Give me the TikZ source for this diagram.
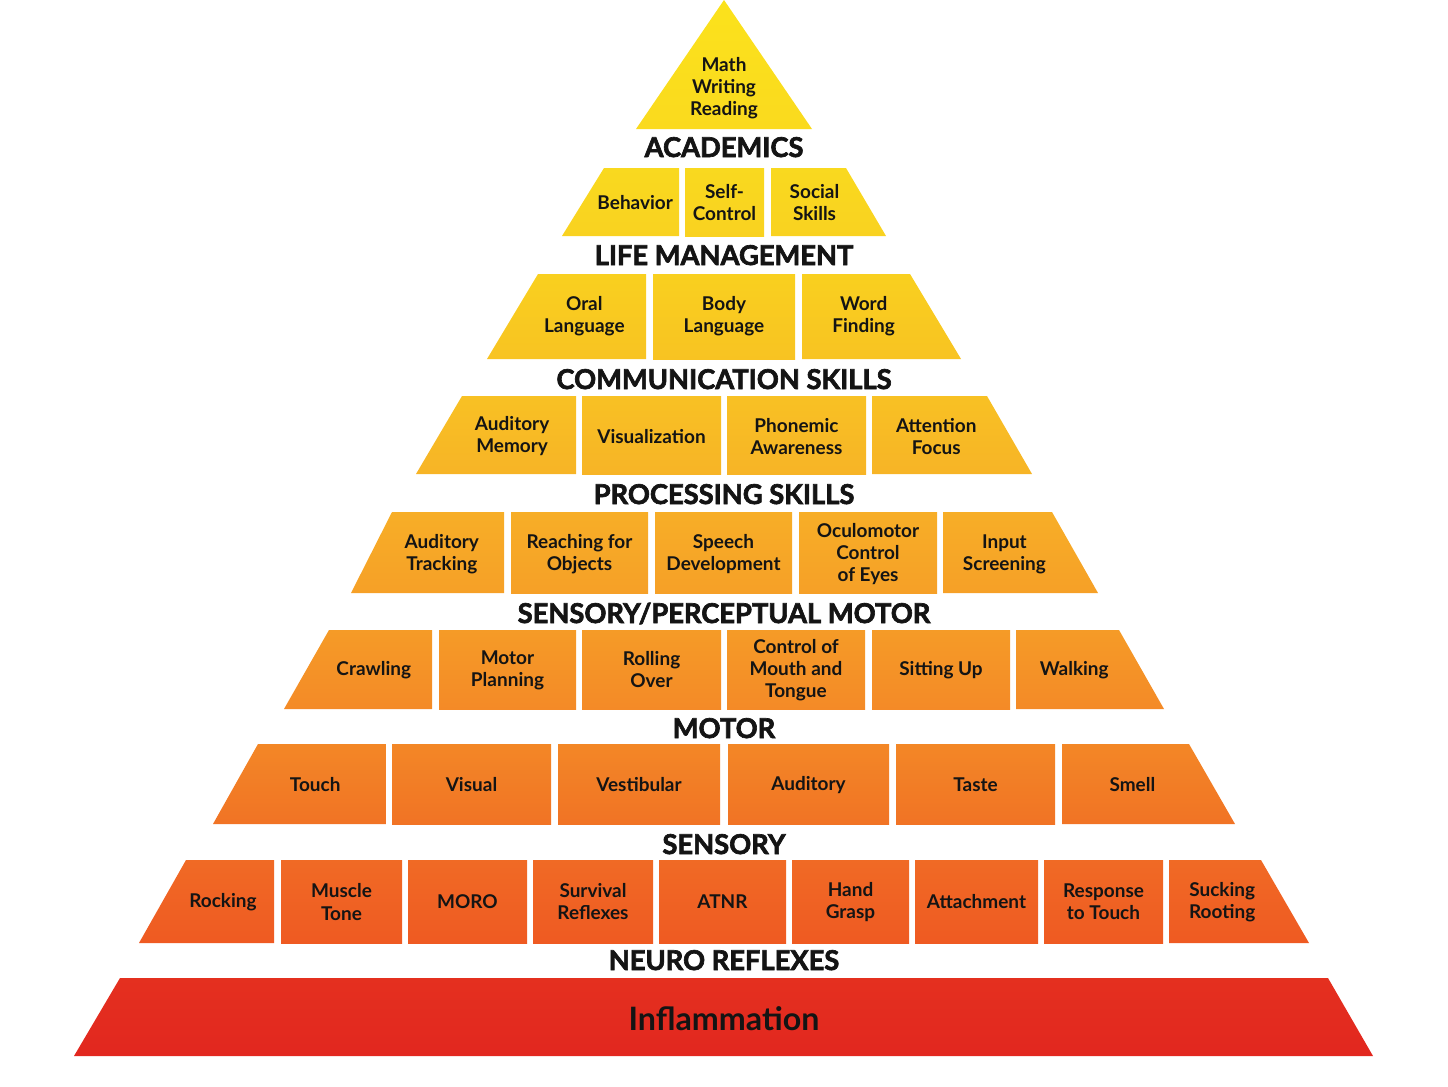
\documentclass[tikz,border=0pt]{standalone}
\usepackage{fontspec}
\setmainfont{Lato}
\newfontfamily\headfont{Lato}[BoldFeatures={FakeBold=2.4}]

\definecolor{inktext}{HTML}{141414}
\tikzset{
  txt/.style={text=inktext, align=center, inner sep=0pt,
    font=\fontsize{16.2}{18.8}\selectfont\bfseries},
  head/.style={anchor=base, text=inktext, inner sep=0pt,
    font=\fontsize{23.3}{27}\selectfont\headfont\bfseries},
  infl/.style={text=inktext, inner sep=0pt,
    font=\fontsize{27.5}{30}\selectfont\bfseries},
}

\begin{document}
\begin{tikzpicture}[x=0.3mm,y=-0.3mm]
\useasboundingbox (0,0) rectangle (1448,1086);

% top of the pyramid
\shade[top color={rgb,255:red,251;green,226;blue,28}, bottom color={rgb,255:red,250;green,218;blue,30}]
  (724,0) -- (812,129) -- (636,129) -- cycle;
\node[txt] (acad) at (724,88) {Math\\Writing\\Reading};
\node[head] (academics) at (724,157) {ACADEMICS};

% life management
\foreach \a/\b/\c/\d/\n/\t in {604/562/679/679/behav/Behavior,
    685/685/764/764/selfc/{Self-\\Control},
    771/771/846/886/social/{Social\\Skills}}{
  \shade[top color={rgb,255:red,249;green,217;blue,31}, bottom color={rgb,255:red,249;green,210;blue,32}]
    (\a,168) -- (\c,168) -- (\d,236) -- (\b,236) -- cycle;
  \node[txt] (\n) at ({(0.7*\a+0.3*\b+0.7*\c+0.3*\d)/2},203) {\t};
}
\node[head] (lifemgmt) at (724,265) {LIFE MANAGEMENT};

% communication
\foreach \a/\b/\c/\d/\n/\t in {538/487/646/646/oral/{Oral\\Language},
    653/653/795/795/body/{Body\\Language},
    802/802/910/961/word/{Word\\Finding}}{
  \shade[top color={rgb,255:red,249;green,208;blue,31}, bottom color={rgb,255:red,248;green,195;blue,34}]
    (\a,274) -- (\c,274) -- (\d,359) -- (\b,359) -- cycle;
  \node[txt] (\n) at ({(0.7*\a+0.3*\b+0.7*\c+0.3*\d)/2},316.5) {\t};
}
\node[head] (comm) at (724,389) {COMMUNICATION SKILLS};

% processing
\foreach \a/\b/\c/\d/\n/\t in {462/416/576/576/audmem/{Auditory\\Memory},
    582/582/721/721/visual/Visualization,
    727/727/866/866/phon/{Phonemic\\Awareness},
    872/872/987/1032/atten/{Attention\\Focus}}{
  \shade[top color={rgb,255:red,248;green,193;blue,36}, bottom color={rgb,255:red,247;green,180;blue,38}]
    (\a,396) -- (\c,396) -- (\d,474) -- (\b,474) -- cycle;
  \node[txt] (\n) at ({(0.7*\a+0.3*\b+0.7*\c+0.3*\d)/2},436.5) {\t};
}
\node[head] (proc) at (724,504) {PROCESSING SKILLS};

% sensory/perceptual motor
\foreach \a/\b/\c/\d/\n/\t in {392/351/504/504/audtrack/{Auditory\\Tracking},
    511/511/648/648/reach/{Reaching for\\Objects},
    655/655/792/792/speech/{Speech\\Development},
    799/799/937/937/oculo/{Oculomotor\\Control\\of Eyes},
    943/943/1052/1098/input/{Input\\Screening}}{
  \shade[top color={rgb,255:red,247;green,174;blue,39}, bottom color={rgb,255:red,246;green,160;blue,39}]
    (\a,512) -- (\c,512) -- (\d,593) -- (\b,593) -- cycle;
  \node[txt] (\n) at ({(0.7*\a+0.3*\b+0.7*\c+0.3*\d)/2},554.5) {\t};
}
\node[head] (spm) at (724,623) {SENSORY/PERCEPTUAL MOTOR};

% motor
\foreach \a/\b/\c/\d/\n/\t in {329/284/432/432/crawl/Crawling,
    439/439/576/576/motplan/{Motor\\Planning},
    582/582/721/721/roll/{Rolling\\Over},
    727/727/865/865/mouth/{Control of\\Mouth and\\Tongue},
    872/872/1010/1010/sit/{Sitting Up},
    1016/1016/1119/1164/walk/Walking}{
  \shade[top color={rgb,255:red,245;green,155;blue,39}, bottom color={rgb,255:red,244;green,138;blue,39}]
    (\a,630) -- (\c,630) -- (\d,709) -- (\b,709) -- cycle;
  \node[txt] (\n) at ({(0.7*\a+0.3*\b+0.7*\c+0.3*\d)/2},670) {\t};
}
\node[head] (motor) at (724,738) {MOTOR};

% sensory
\foreach \a/\b/\c/\d/\n/\t in {258/213/386/386/touch/Touch,
    392/392/551/551/vis/Visual,
    558/558/720/720/vest/Vestibular,
    728/728/889/889/aud/Auditory,
    896/896/1055/1055/taste/Taste,
    1062/1062/1189/1235/smell/Smell}{
  \shade[top color={rgb,255:red,243;green,135;blue,38}, bottom color={rgb,255:red,241;green,115;blue,37}]
    (\a,744) -- (\c,744) -- (\d,824) -- (\b,824) -- cycle;
  \node[txt] (\n) at ({(0.7*\a+0.3*\b+0.7*\c+0.3*\d)/2},785) {\t};
}
\node[head] (sensory) at (724,854) {SENSORY};

% neuro reflexes
\foreach \a/\b/\c/\d/\n/\t in {186/139/274/274/rock/Rocking,
    281/281/402/402/muscle/{Muscle\\Tone},
    408/408/527/527/moro/MORO,
    533/533/653/653/surv/{Survival\\Reflexes},
    659/659/786/786/atnr/ATNR,
    792/792/909/909/grasp/{Hand\\Grasp},
    915/915/1038/1038/attach/Attachment,
    1044/1044/1163/1163/resp/{Response\\to Touch},
    1169/1169/1261/1309/suck/{Sucking\\Rooting}}{
  \shade[top color={rgb,255:red,240;green,106;blue,37}, bottom color={rgb,255:red,239;green,90;blue,34}]
    (\a,860) -- (\c,860) -- (\d,943) -- (\b,943) -- cycle;
  \node[txt] (\n) at ({(0.7*\a+0.3*\b+0.7*\c+0.3*\d)/2},902) {\t};
}
\node[head] (neuro) at (724,970) {NEURO REFLEXES};

% base
\shade[top color={rgb,255:red,228;green,48;blue,31}, bottom color={rgb,255:red,226;green,39;blue,31}]
  (120,978) -- (1328,978) -- (1373,1056) -- (74,1056) -- cycle;
\node[infl] (inflam) at (724,1019) {Inflammation};
\end{tikzpicture}
\end{document}
